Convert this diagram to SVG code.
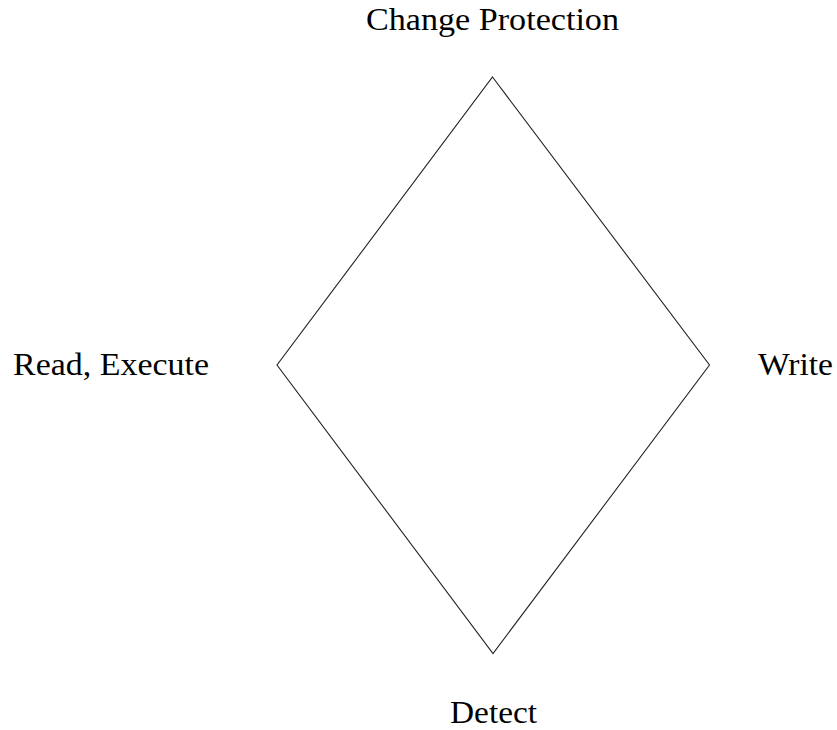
<svg xmlns="http://www.w3.org/2000/svg" width="837" height="730" viewBox="0 0 837 730">
<style>
.lbl{font-family:"Liberation Serif","DejaVu Serif",serif;font-size:31px;fill:#000}
.edge{fill:none;stroke:#222;stroke-width:1.1;stroke-linejoin:miter}
</style>
<rect width="837" height="730" fill="#fff"/>
<g id="connectors">
<path class="edge" d="M492.5,77 L709.5,365 L493,653.5 L277,365 Z"/>
</g>
<g id="node-change-protection"><text class="lbl" x="366" y="29.5" textLength="253" lengthAdjust="spacingAndGlyphs">Change Protection</text></g>
<g id="node-read-execute"><text class="lbl" x="13" y="374.5" textLength="196" lengthAdjust="spacingAndGlyphs">Read, Execute</text></g>
<g id="node-write"><text class="lbl" x="758" y="374.5" textLength="75" lengthAdjust="spacingAndGlyphs">Write</text></g>
<g id="node-detect"><text class="lbl" x="450" y="723" textLength="87" lengthAdjust="spacingAndGlyphs">Detect</text></g>
</svg>
